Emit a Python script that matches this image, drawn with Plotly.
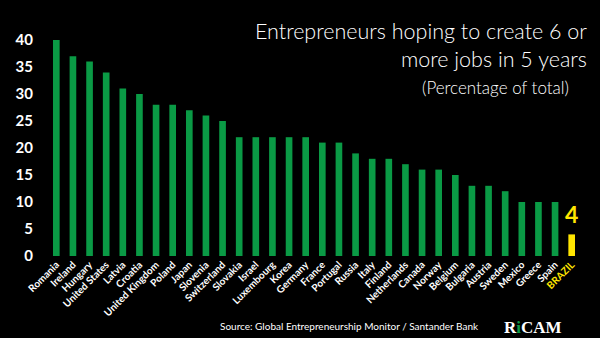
import plotly.graph_objects as go

countries = ["Romania", "Ireland", "Hungary", "United States", "Latvia", "Croatia",
             "United Kingdom", "Poland", "Japan", "Slovenia", "Switzerland", "Slovakia",
             "Israel", "Luxembourg", "Korea", "Germany", "France", "Portugal", "Russia",
             "Italy", "Finland", "Netherlands", "Canada", "Norway", "Belgium", "Bulgaria",
             "Austria", "Sweden", "Mexico", "Greece", "Spain", "BRAZIL"]
values = [40, 37, 36, 34, 31, 30, 28, 28, 27, 26, 25, 22, 22, 22, 22, 22, 21, 21, 19,
          18, 18, 17, 16, 16, 15, 13, 13, 12, 10, 10, 10, 4]
highlight = "BRAZIL"
y_ticks = [0, 5, 10, 15, 20, 25, 30, 35, 40]

GREEN = "#0A9A45"
YELLOW = "#FFE500"
FONT = "Lato"

colors = [YELLOW if c == highlight else GREEN for c in countries]
tick_text = [f"<span style='color:{YELLOW}'>{c}</span>" if c == highlight else c
             for c in countries]

fig = go.Figure(go.Bar(
    x=countries, y=values,
    marker=dict(color=colors, line=dict(width=0)),
    width=0.4,
    hoverinfo="x+y",
))

# value label above the highlighted bar
hi = countries.index(highlight)
fig.add_annotation(x=countries[hi], y=values[hi], text=f"<b>{values[hi]}</b>",
                   showarrow=False, yanchor="bottom", yshift=4,
                   font=dict(family=FONT, size=23, color=YELLOW))

fig.add_annotation(xref="paper", yref="paper", x=1.017, y=0.975,
                   text="Entrepreneurs hoping to create 6 or<br>more jobs in 5 years",
                   showarrow=False, xanchor="right", yanchor="middle", align="right",
                   font=dict(family=FONT, size=21.5, color="white", weight=300))
fig.add_annotation(xref="paper", yref="paper", x=0.983, y=0.778,
                   text="(Percentage of total)",
                   showarrow=False, xanchor="right", yanchor="middle",
                   font=dict(family=FONT, size=17, color="white", weight=300))
fig.add_annotation(xref="paper", yref="paper", x=0.319, y=-0.325,
                   text="Source: Global Entrepreneurship Monitor / Santander Bank",
                   showarrow=False, xanchor="left", yanchor="middle",
                   font=dict(family=FONT, size=10, color="white"))
fig.add_annotation(xref="paper", yref="paper", x=0.912, y=-0.33,
                   text=f"<b>R<span style='color:{GREEN}'>i</span>CAM</b>",
                   showarrow=False, xanchor="center", yanchor="middle",
                   font=dict(family="Liberation Serif", size=17, color="white"))

fig.update_layout(
    width=600, height=338,
    paper_bgcolor="black", plot_bgcolor="black",
    margin=dict(l=48, r=20, t=40, b=82),
    showlegend=False,
    xaxis=dict(range=[-0.5, len(countries) - 0.5], tickangle=-45,
               tickmode="array", tickvals=countries, ticktext=tick_text,
               tickfont=dict(family=FONT, size=10, color="white", weight="bold"),
               showgrid=False, zeroline=False, showline=False, ticks=""),
    yaxis=dict(range=[0, 40], tickmode="array", tickvals=y_ticks,
               tickfont=dict(family=FONT, size=15, color="white", weight="bold"),
               showgrid=False, zeroline=False, showline=False, ticklabelstandoff=14),
)

fig.write_html("out.html")
